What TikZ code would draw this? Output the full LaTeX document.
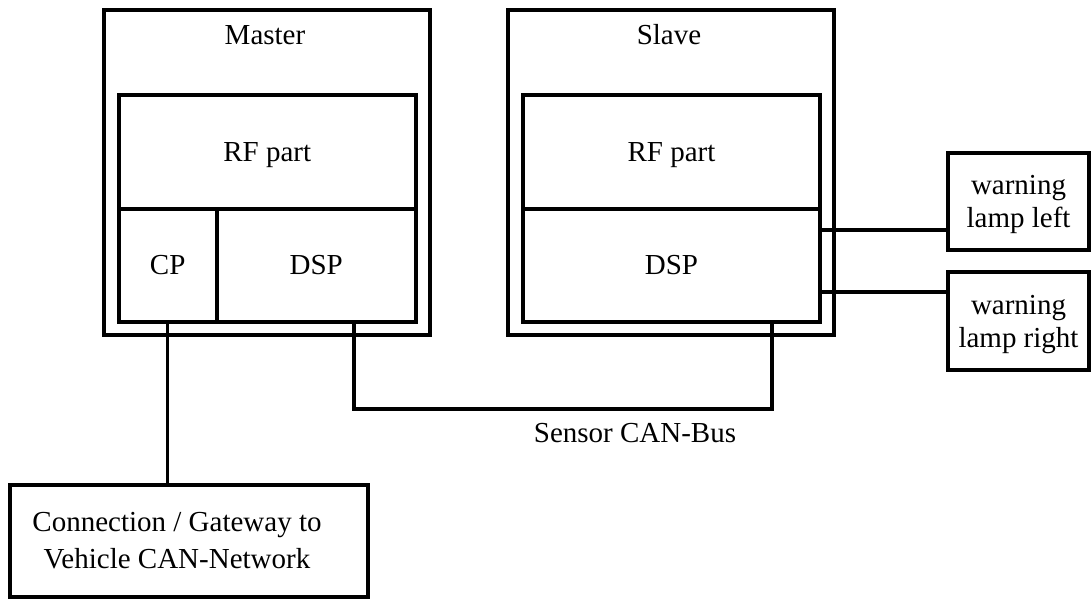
\documentclass[tikz,border=0pt]{standalone}
\usepackage{fontspec}
\setmainfont{Liberation Serif}
\usetikzlibrary{calc}
\begin{document}
\begin{tikzpicture}[x=1pt, y=-1pt,
  every node/.style={font=\fontsize{29}{33}\selectfont},
  box/.style={draw, line width=4pt, inner sep=0pt, rectangle, text depth=0pt},
  unit/.style={box, minimum width=326pt, minimum height=325pt},
  mbox/.style={box, align=center},
  bus/.style={line width=4pt, line join=miter},
  lampline/.style={line width=3.5pt},
  wire/.style={line width=2.5pt}
]
\useasboundingbox (0,0) rectangle (1091,599);

% Master unit
\node[unit] (master) at (267,172.5) {};
\node[anchor=base] (mtitle) at (265,45) {Master};
\node[box, minimum width=297pt, minimum height=113.4pt] (mrf) at (267.2,152) {RF part};
\node[box, minimum width=98pt, minimum height=113pt] (mcp) at (167.7,265.2) {CP};
\node[box, minimum width=199pt, minimum height=113pt] (mdsp) at (316.2,265.2) {DSP};

% Slave unit
\node[unit] (slave) at (671,172.5) {};
\node[anchor=base] (stitle) at (669,45) {Slave};
\node[box, minimum width=297pt, minimum height=113.4pt] (srf) at (671.5,152) {RF part};
\node[box, minimum width=297pt, minimum height=113pt] (sdsp) at (671.5,265.2) {DSP};

% Warning lamps
\node[mbox, minimum width=141pt, minimum height=97pt] (lampL) at (1018.5,201.5) {warning\\lamp left};
\node[mbox, minimum width=141pt, minimum height=98pt] (lampR) at (1018.5,321) {warning\\lamp right};

% Gateway to the vehicle network
\node[box, minimum width=358pt, minimum height=112pt,
  label={[xshift=-12pt, align=center, font=\fontsize{29}{37}\selectfont]center:Connection / Gateway to\\Vehicle CAN-Network}]
  (gateway) at (189,541) {};

% Sensor CAN bus between the two DSPs
\coordinate (busA) at ($(mdsp.south west)!0.685!(mdsp.south east)$);
\coordinate (busB) at ($(sdsp.south west)!0.835!(sdsp.south east)$);
\draw[bus] (busA) -- ++(0,85) -| (busB);
\node[anchor=base] (buslabel) at (635,442) {Sensor CAN-Bus};

% CP to gateway
\draw[wire] (mcp.south) -- (mcp.south |- gateway.north);

% Slave DSP to lamps
\coordinate (lampLin) at ($(lampL.south west)!0.216!(lampL.north west)$);
\coordinate (lampRin) at ($(lampR.north west)!0.214!(lampR.south west)$);
\draw[lampline] (sdsp.east |- lampLin) -- (lampLin);
\draw[lampline] (sdsp.east |- lampRin) -- (lampRin);
\end{tikzpicture}
\end{document}
